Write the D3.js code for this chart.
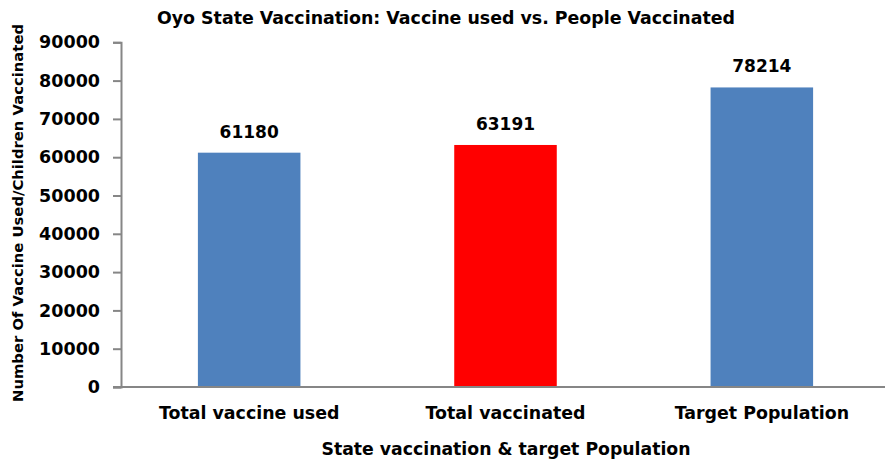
<!DOCTYPE html>
<html><head><meta charset="utf-8">
<script src="https://cdn.jsdelivr.net/npm/d3@7"></script>
<style>body{margin:0;background:#fff}svg{display:block}text{font-family:"DejaVu Sans",sans-serif;font-weight:bold;fill:#000}</style>
</head><body>
<script>
const categories = ["Total vaccine used", "Total vaccinated", "Target Population"];
const values = [61180, 63191, 78214];
const barColors = ["#4F81BD", "#FF0000", "#4F81BD"];
const yTicks = [0, 10000, 20000, 30000, 40000, 50000, 60000, 70000, 80000, 90000];

const W = 885, H = 462;
const FONT = "'DejaVu Sans', sans-serif";
const svg = d3.select("body").append("svg").attr("width", W).attr("height", H);
const x = d3.scaleBand().domain(categories).range([121, 890]).padding(0);
const y = d3.scaleLinear().domain([0, 90000]).range([387, 42.3]);
const bw = x.bandwidth();

svg.selectAll("rect.bar").data(values).join("rect")
  .attr("x", (d, i) => x(categories[i]) + bw * 0.3)
  .attr("width", bw * 0.4)
  .attr("y", d => y(d))
  .attr("height", d => y(0) - y(d))
  .attr("fill", (d, i) => barColors[i]);

svg.selectAll("text.val").data(values).join("text")
  .attr("x", (d, i) => x(categories[i]) + bw / 2)
  .attr("y", d => y(d) - 15)
  .attr("text-anchor", "middle")
  .style("font-size", "17px")
  .text(d => d);

const yAxis = svg.append("g").attr("transform", "translate(121,0)")
  .call(d3.axisLeft(y).tickValues(yTicks).tickFormat(d3.format("d")).tickSizeOuter(0).tickSize(8).tickPadding(13));
yAxis.select(".domain").attr("stroke", "#868686").attr("stroke-width", 2);
yAxis.selectAll(".tick line").attr("stroke", "#868686").attr("stroke-width", 2);
yAxis.selectAll(".tick text").style("font-size", "17.5px").style("font-family", FONT).attr("fill", "#000");

const xAxis = svg.append("g").attr("transform", "translate(0,387)")
  .call(d3.axisBottom(x).tickSize(0).tickSizeOuter(0).tickPadding(20));
xAxis.select(".domain").attr("d", "M113,0H885").attr("stroke", "#868686").attr("stroke-width", 2);
xAxis.selectAll(".tick text").style("font-size", "17.4px").style("font-family", FONT).attr("fill", "#000");

svg.append("text").attr("x", 446).attr("y", 24).attr("text-anchor", "middle")
  .style("font-size", "17.4px").text("Oyo State Vaccination: Vaccine used vs. People Vaccinated");
svg.append("text").attr("x", 506).attr("y", 455).attr("text-anchor", "middle")
  .style("font-size", "17.3px").text("State vaccination & target Population");
svg.append("text").attr("transform", "translate(23,213) rotate(-90)").attr("text-anchor", "middle")
  .style("font-size", "14.8px").text("Number Of Vaccine Used/Children Vaccinated");
</script>
</body></html>
